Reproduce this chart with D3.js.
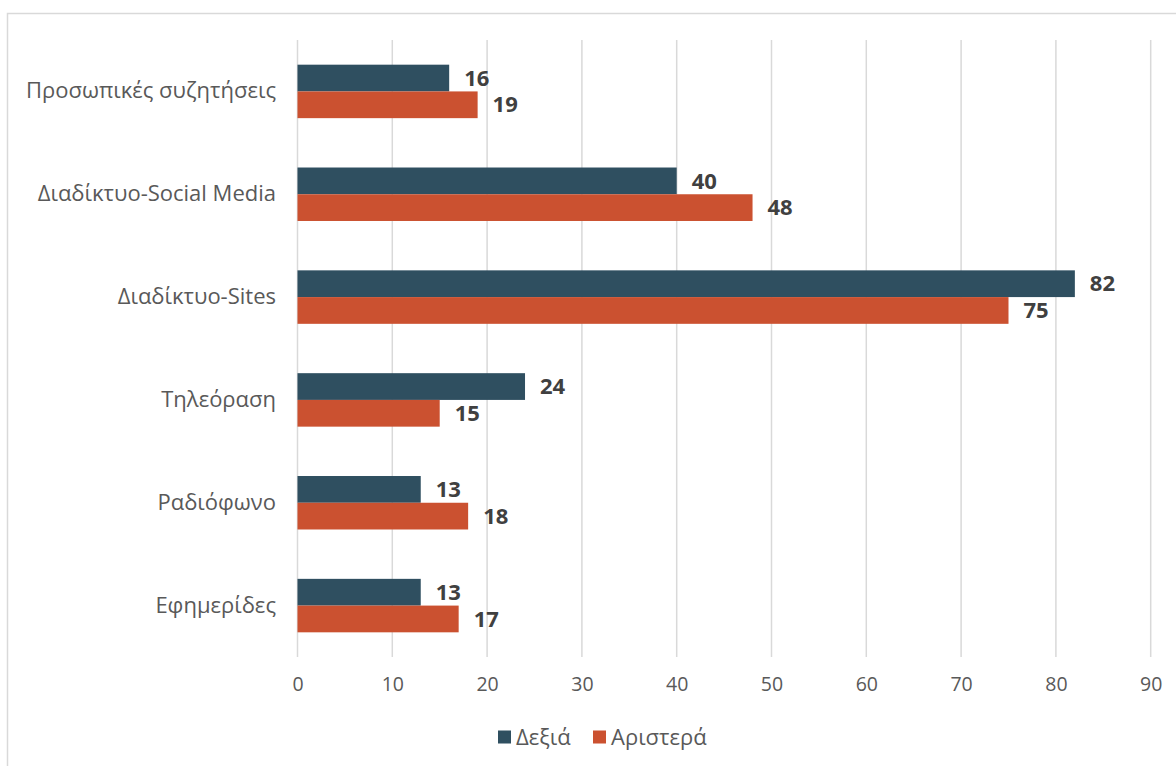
<!DOCTYPE html>
<html>
<head>
<meta charset="utf-8">
<script src="https://cdn.jsdelivr.net/npm/d3@7"></script>
<style>
  html, body { margin: 0; padding: 0; background: #fff; }
  svg { display: block; font-family: "Open Sans", "Noto Sans", sans-serif; }
</style>
</head>
<body>
<svg id="chart" width="1176" height="766"></svg>
<script>
const categories = ["Προσωπικές συζητήσεις", "Διαδίκτυο-Social Media", "Διαδίκτυο-Sites", "Τηλεόραση", "Ραδιόφωνο", "Εφημερίδες"];
const seriesNames = ["Δεξιά", "Αριστερά"];
const rightValues = [16, 40, 82, 24, 13, 13];
const leftValues = [19, 48, 75, 15, 18, 17];
const tickValues = [0, 10, 20, 30, 40, 50, 60, 70, 80, 90];
const colors = ["#2F4F60", "#CB5130"];

const svg = d3.select("#chart");

// outer border
svg.append("rect")
  .attr("x", 7.5).attr("y", 13.5)
  .attr("width", 1200).attr("height", 800)
  .attr("fill", "none").attr("stroke", "#d9d9d9").attr("stroke-width", 1.5);

const plotTop = 40, plotBottom = 657;
const x = d3.scaleLinear().domain([0, 90]).range([297.5, 1150.7]);
const y = d3.scaleBand().domain(categories).range([plotTop, plotBottom]).paddingInner(0.48).paddingOuter(0.24);
const ySub = d3.scaleBand().domain(seriesNames).range([0, y.bandwidth()]);

// gridlines
svg.append("g").selectAll("line").data(tickValues).join("line")
  .attr("x1", d => x(d)).attr("x2", d => x(d))
  .attr("y1", plotTop).attr("y2", plotBottom)
  .attr("stroke", "#d9d9d9").attr("stroke-width", 1.5);

// x axis tick labels
const xAxis = d3.axisBottom(x).tickValues(tickValues).tickSize(0).tickPadding(0);
const gx = svg.append("g").attr("transform", `translate(0,${plotBottom})`).call(xAxis);
gx.select(".domain").remove();
gx.selectAll("text")
  .attr("y", 28).attr("dy", "0.32em")
  .attr("fill", "#595959").style("font-size", "19.5px")
  .style("font-family", "'Open Sans', 'Noto Sans', sans-serif");

// y axis labels
const yAxis = d3.axisLeft(y).tickSize(0).tickPadding(0);
const gy = svg.append("g").attr("transform", `translate(276,0)`).call(yAxis);
gy.select(".domain").remove();
gy.selectAll("text")
  .attr("fill", "#595959").style("font-size", "22px")
  .style("font-family", "'Open Sans', 'Noto Sans', sans-serif");

// bars
const data = categories.map((c, i) => ({ cat: c, vals: [rightValues[i], leftValues[i]] }));
const groups = svg.append("g").selectAll("g").data(data).join("g")
  .attr("transform", d => `translate(0,${y(d.cat)})`);

groups.selectAll("rect").data(d => d.vals.map((v, j) => ({ v, s: seriesNames[j], j }))).join("rect")
  .attr("x", x(0))
  .attr("y", d => ySub(d.s))
  .attr("width", d => x(d.v) - x(0))
  .attr("height", ySub.bandwidth())
  .attr("fill", d => colors[d.j]);

groups.selectAll("text").data(d => d.vals.map((v, j) => ({ v, s: seriesNames[j], j }))).join("text")
  .attr("x", d => x(d.v) + 15)
  .attr("y", d => ySub(d.s) + ySub.bandwidth() / 2)
  .attr("dy", "0.35em")
  .attr("fill", "#404040")
  .style("font-size", "22px").style("font-weight", "bold")
  .text(d => d.v);

// legend
const legendItems = [{ name: seriesNames[0], x: 498 }, { name: seriesNames[1], x: 593 }];
const lg = svg.append("g").selectAll("g").data(legendItems).join("g")
  .attr("transform", d => `translate(${d.x},737)`);
lg.append("rect").attr("x", 0).attr("y", -6.5).attr("width", 13).attr("height", 13)
  .attr("fill", (d, i) => colors[i]);
lg.append("text").attr("x", 18).attr("y", 0).attr("dy", "0.35em")
  .attr("fill", "#595959").style("font-size", "22px")
  .text(d => d.name);
</script>
</body>
</html>
